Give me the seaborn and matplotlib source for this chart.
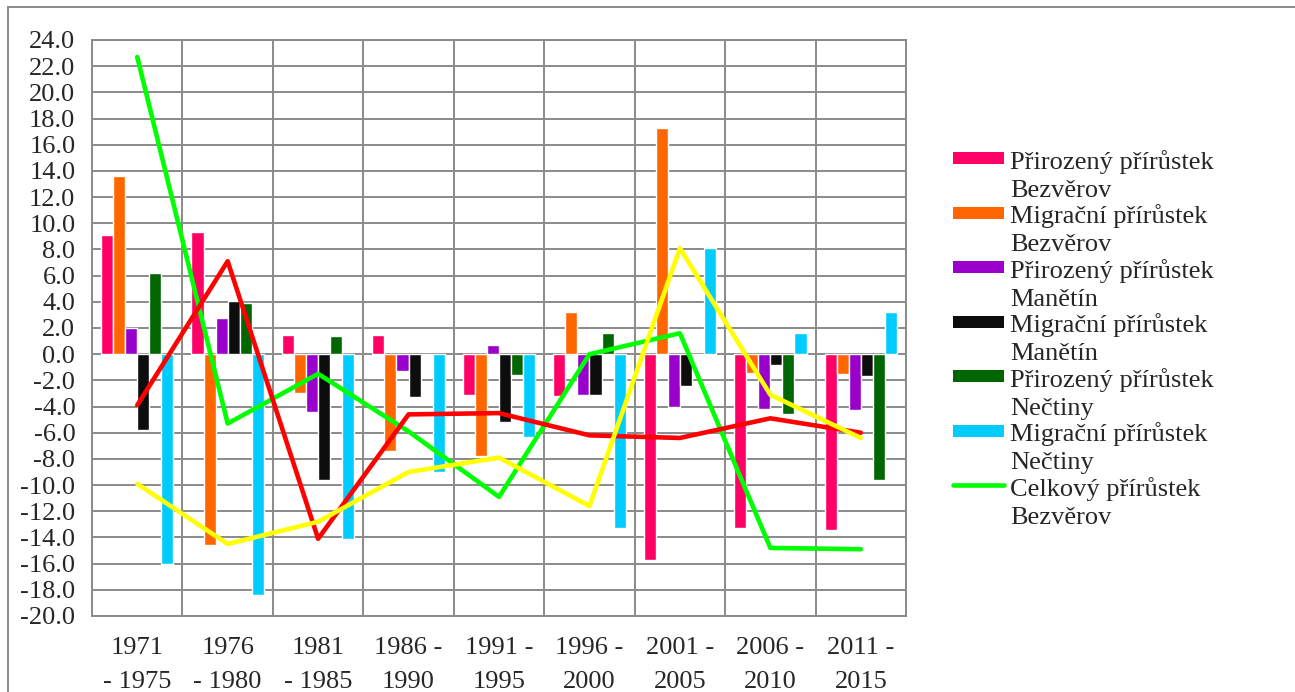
import numpy as np
import pandas as pd
import matplotlib.pyplot as plt
import seaborn as sns
from matplotlib.lines import Line2D
from matplotlib.patches import Patch, Rectangle
from matplotlib.legend_handler import HandlerBase

# Data
periods = ["1971\n- 1975", "1976\n- 1980", "1981\n- 1985", "1986 -\n1990", "1991 -\n1995",
           "1996 -\n2000", "2001 -\n2005", "2006 -\n2010", "2011 -\n2015"]

pir_bezverov = [9.1, 9.3, 1.5, 1.5, -3.1, -3.2, -15.7, -13.3, -13.4]
mig_bezverov = [13.6, -14.6, -3.0, -7.4, -7.8, 3.2, 17.3, -1.4, -1.5]
pir_manetin = [2.0, 2.8, -4.4, -1.3, 0.7, -3.1, -4.0, -4.2, -4.3]
mig_manetin = [-5.8, 4.1, -9.6, -3.3, -5.2, -3.1, -2.4, -0.8, -1.7]
pir_nectiny = [6.2, 3.9, 1.4, 0.0, -1.6, 1.6, 0.0, -4.6, -9.6]
mig_nectiny = [-16.0, -18.4, -14.1, -9.0, -6.3, -13.3, 8.1, 1.6, 3.2]

cel_bezverov = [22.7, -5.3, -1.5, -5.9, -10.9, 0.0, 1.6, -14.8, -14.9]
cel_manetin = [-3.9, 7.1, -14.1, -4.6, -4.5, -6.2, -6.4, -4.9, -6.0]
cel_nectiny = [-9.9, -14.5, -12.8, -9.0, -7.9, -11.6, 8.1, -3.1, -6.4]

series_names = ["Přirozený přírůstek\nBezvěrov", "Migrační přírůstek\nBezvěrov",
                "Přirozený přírůstek\nManětín", "Migrační přírůstek\nManětín",
                "Přirozený přírůstek\nNečtiny", "Migrační přírůstek\nNečtiny"]
series_values = [pir_bezverov, mig_bezverov, pir_manetin, mig_manetin, pir_nectiny, mig_nectiny]
bar_colors = ["#FF0066", "#FF6600", "#9900CC", "#0D0D0D", "#006600", "#00CCFF"]
line_label = "Celkový přírůstek\nBezvěrov"

bars = pd.DataFrame([(p, s, v) for s, vals in zip(series_names, series_values)
                     for p, v in zip(periods, vals)], columns=["period", "series", "value"])

sns.set_style("white")
plt.rcParams['font.family'] = ['Liberation Serif', 'DejaVu Serif']
FS = 19
GRID = "#8a8a8a"


class RaisedHandler(HandlerBase):
    # Excel puts the key next to the first line of a wrapped label
    def create_artists(self, legend, orig_handle, xdescent, ydescent, width, height, fontsize, trans):
        yc = height / 2 - ydescent + 0.63 * fontsize
        if isinstance(orig_handle, Line2D):
            art = Line2D([-xdescent, width - xdescent], [yc, yc], color=orig_handle.get_color(),
                         lw=orig_handle.get_linewidth(), solid_capstyle='round')
        else:
            art = Rectangle((-xdescent, yc - 4.3), width, 8.6,
                            facecolor=orig_handle.get_facecolor(), edgecolor='none')
        art.set_transform(trans)
        return [art]


fig = plt.figure(figsize=(12.95, 6.92), dpi=100)
ax = fig.add_axes([92 / 1295, 1 - 616 / 692, (906 - 92) / 1295, (616 - 40) / 692])

sns.barplot(data=bars, x="period", y="value", hue="series", order=periods, hue_order=series_names,
            palette=bar_colors, saturation=1, width=0.8, legend=False, ax=ax, zorder=2)

pos = np.arange(len(periods))
sns.lineplot(x=pos, y=cel_bezverov, color="#00FF00", lw=3.3, ax=ax, zorder=3)
sns.lineplot(x=pos, y=cel_manetin, color="#FF0000", lw=3.3, ax=ax, zorder=3)
sns.lineplot(x=pos, y=cel_nectiny, color="#FFFF00", lw=3.3, ax=ax, zorder=3)

yticks = np.arange(-20, 25, 2)
ax.set_ylim(-20, 24)
ax.set_yticks(yticks)
ax.set_yticklabels([f"{v:.1f}" for v in yticks], fontsize=FS)
ax.set_xlim(-0.5, len(periods) - 0.5)
ax.set_xticks(pos)
ax.set_xticklabels(periods, fontsize=FS)
ax.set_xticks(np.arange(-0.5, len(periods), 1), minor=True)
for t in ax.get_xticklabels():
    t.set_linespacing(1.7)
ax.set_xlabel("")
ax.set_ylabel("")

ax.set_axisbelow(True)
ax.grid(axis="y", which="major", color=GRID, lw=1.4)
ax.grid(axis="x", which="minor", color=GRID, lw=1.4)
ax.grid(axis="x", which="major", visible=False)
ax.tick_params(axis="x", which="both", length=0, pad=15)
ax.tick_params(axis="y", length=5, width=1.2, color=GRID, pad=7, direction="out")
for sp in ax.spines.values():
    sp.set_color(GRID)
    sp.set_linewidth(1.4)

handles = [Patch(facecolor=c) for c in bar_colors] + [Line2D([], [], color="#00FF00", lw=3.3)]
labels = series_names + [line_label]
leg = ax.legend(handles, labels, handler_map={Patch: RaisedHandler(), Line2D: RaisedHandler()},
                loc="upper left", bbox_to_anchor=(953 / 1295, 1 - 150 / 692), bbox_transform=fig.transFigure,
                frameon=False, fontsize=FS, handlelength=1.95, handletextpad=0.2, labelspacing=0.11,
                borderpad=0, borderaxespad=0)
for t in leg.get_texts():
    t.set_linespacing(1.33)

# grey chart border, cut off at the right and bottom
fig.add_artist(Rectangle((8 / 1295, -0.1), 1.2, 1.1 - 7 / 692, transform=fig.transFigure,
                         fill=False, edgecolor=GRID, lw=1.4))

fig.savefig("out.png", dpi=100)
